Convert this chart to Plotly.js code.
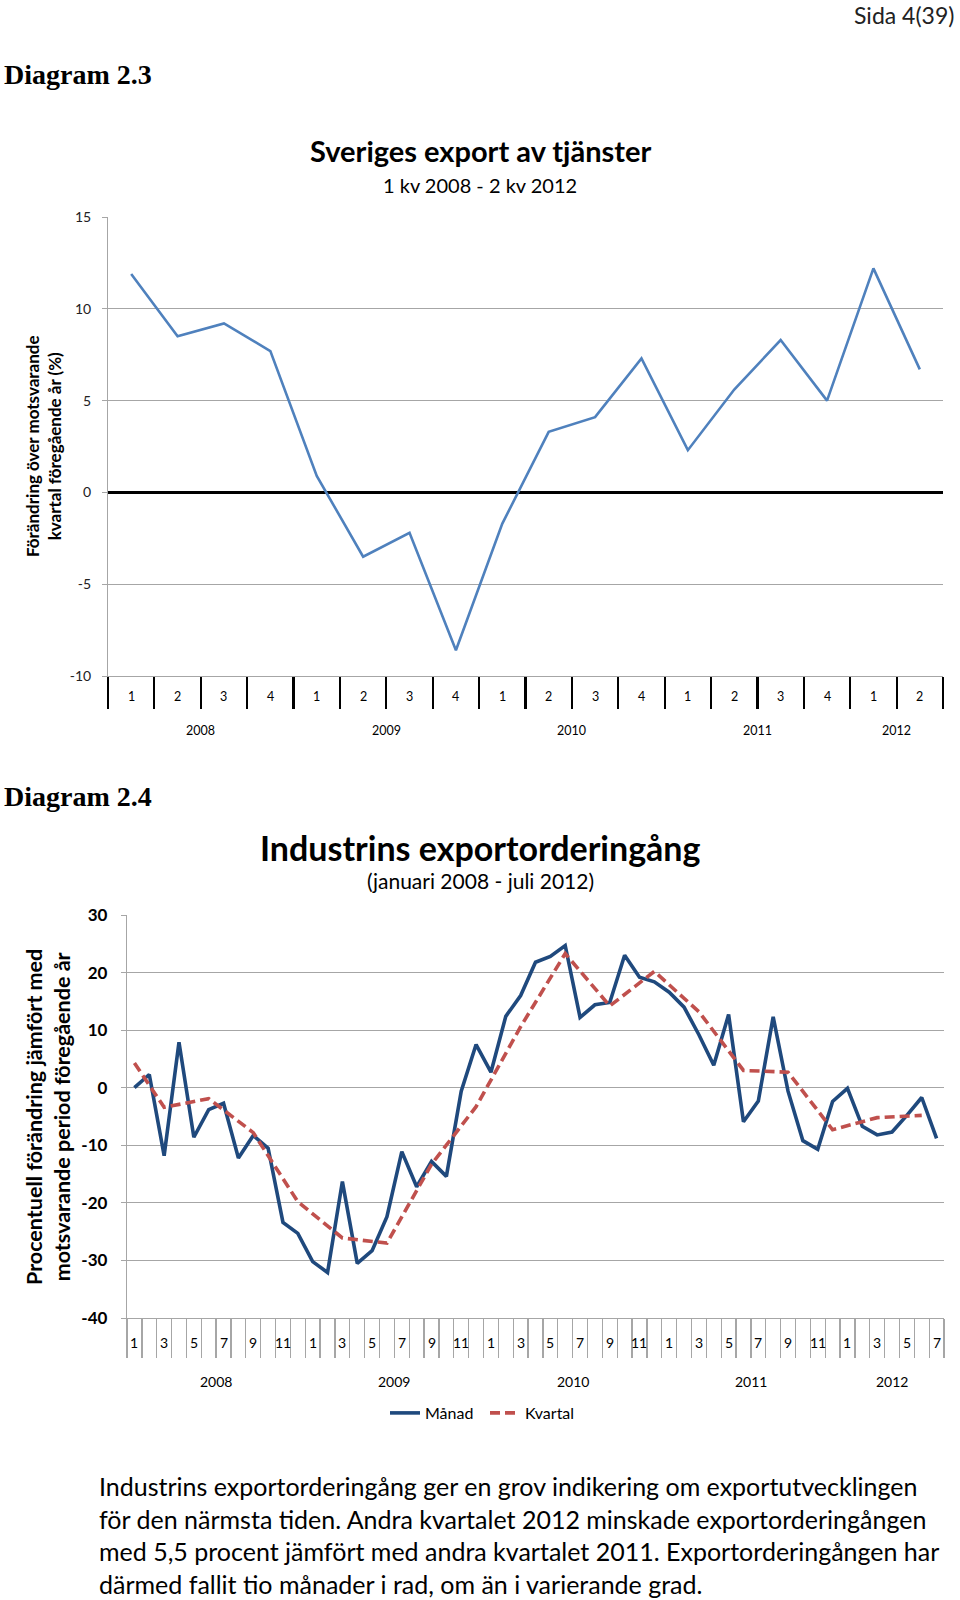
<!DOCTYPE html>
<html><head><meta charset="utf-8">
<script src="https://cdn.plot.ly/plotly-3.0.1.min.js"></script>
<style>html,body{margin:0;padding:0;background:#fff}#chart{width:960px;height:1600px}</style>
</head><body><div id="chart"></div>
<script>
// ---------- Diagram 2.3 : Sveriges export av tjänster ----------
const kvYears = ['2008', '2009', '2010', '2011', '2012'];
const kvPerYear = [4, 4, 4, 4, 2];
const kvLabels = ['1', '2', '3', '4'];
const exportTjanster = [11.9, 8.5, 9.2, 7.7, 0.9, -3.5, -2.2, -8.6, -1.7, 3.3, 4.1, 7.3, 2.3, 5.6, 8.3, 5.0, 12.2, 6.7];
const yTicksA = [-10, -5, 0, 5, 10, 15];

// ---------- Diagram 2.4 : Industrins exportorderingång ----------
const manYears = ['2008', '2009', '2010', '2011', '2012'];
const manPerYear = [12, 12, 12, 12, 7];
const manLabels = ['1', '', '3', '', '5', '', '7', '', '9', '', '11', ''];
const manad = [
  0.0, 2.3, -11.8, 7.9, -8.6, -3.8, -2.7, -12.2, -8.3, -10.5, -23.4, -25.3,
  -30.2, -32.1, -16.3, -30.5, -28.3, -22.4, -11.1, -17.2, -12.8, -15.4, -0.6, 7.5,
  2.7, 12.4, 16.0, 21.8, 22.8, 24.7, 12.2, 14.4, 14.8, 23.0, 19.2, 18.4,
  16.6, 14.0, 9.2, 3.9, 12.7, -5.9, -2.3, 12.3, -0.6, -9.2, -10.7, -2.4,
  -0.1, -6.7, -8.2, -7.7, -4.8, -1.7, -8.8];
const kvartal = [
  4.3, null, -3.4, null, null, -1.9, null, null, -7.8, null, null, -19.8,
  null, null, -26.1, null, null, -27.0, null, null, -13.3, null, null, -3.3,
  null, null, 10.6, null, null, 23.3, null, null, 14.2, null, null, 20.2,
  null, null, 13.2, null, null, 3.0, null, null, 2.7, null, null, -7.3,
  null, null, -5.2, null, null, -4.8, null];
const yTicksB = [-40, -30, -20, -10, 0, 10, 20, 30];

const paragraph = [
  'Industrins exportorderingång ger en grov indikering om exportutvecklingen',
  'för den närmsta tiden. Andra kvartalet 2012 minskade exportorderingången',
  'med 5,5 procent jämfört med andra kvartalet 2011. Exportorderingången har',
  'därmed fallit tio månader i rad, om än i varierande grad.'];

// ---------- helpers ----------
const W = 960, H = 1600;
const PX = p => p / W, PY = p => 1 - p / H;
const FONT = 'Lato, "Open Sans", sans-serif';
const SERIF = '"Liberation Serif", "DejaVu Serif", serif';

function buildCats(years, perYear, labels) {
  const keys = [], lab = [];
  years.forEach((y, yi) => {
    for (let j = 0; j < perYear[yi]; j++) {
      keys.push(y + '-' + (j + 1));
      lab.push(labels[j]);
    }
  });
  const bounds = keys.map((k, i) => i - 0.5).concat([keys.length - 0.5]);
  const yearBounds = [-0.5];
  const yearMid = [];
  let c = 0;
  perYear.forEach(n => { yearMid.push(c + (n - 1) / 2); c += n; yearBounds.push(c - 0.5); });
  return {keys, lab, bounds, yearBounds, yearMid};
}
const A = buildCats(kvYears, kvPerYear, kvLabels);
const B = buildCats(manYears, manPerYear, manLabels);

// ---------- layout geometry ----------
const domXA = [PX(108), PX(943)], domYA = [PY(676), PY(217)], rangeYA = [-10, 15];
const domXB = [PX(127), PX(944)], domYB = [PY(1318), PY(915)], rangeYB = [-40, 30];
const zeroPos = (d, r) => d[0] + (0 - r[0]) / (r[1] - r[0]) * (d[1] - d[0]);
const rngA = [-0.5, A.keys.length - 0.5], rngB = [-0.5, B.keys.length - 0.5];

function tickAxis(over, anchor, vals, len, color, width, rng, pos) {
  const ax = {overlaying: over, range: rng, type: 'linear', tickmode: 'array', tickvals: vals,
    ticks: 'outside', ticklen: len, tickwidth: width, tickcolor: color, showticklabels: false,
    showgrid: false, zeroline: false, showline: false, fixedrange: true};
  if (pos === undefined) ax.anchor = anchor; else { ax.anchor = 'free'; ax.position = pos; }
  return ax;
}

const traces = [
  {x: A.keys, y: exportTjanster, type: 'scatter', mode: 'lines', xaxis: 'x', yaxis: 'y',
   line: {color: '#4F81BD', width: 2.6}, showlegend: false, hoverinfo: 'skip'},
  {x: B.keys, y: manad, type: 'scatter', mode: 'lines', xaxis: 'x2', yaxis: 'y2', name: 'Månad',
   legend: 'legend', line: {color: '#1F497D', width: 3.6}, hoverinfo: 'skip'},
  {x: B.keys, y: kvartal, type: 'scatter', mode: 'lines', xaxis: 'x2', yaxis: 'y2', name: 'Kvartal',
   legend: 'legend2', connectgaps: true, line: {color: '#C0504D', width: 3.6, dash: '10px,5px'}, hoverinfo: 'skip'}
];

const ann = [];
function text(t, x, y, size, opts) {
  ann.push(Object.assign({text: t, x: PX(x), y: PY(y), xref: 'paper', yref: 'paper', showarrow: false,
    xanchor: 'center', yanchor: 'middle', font: {family: FONT, size: size, color: '#000'}}, opts || {}));
}
text('Sida 4(39)', 956, 15, 23, {xanchor: 'right', font: {family: FONT, size: 23, color: '#222'}});
text('<b>Diagram 2.3</b>', 2, 74, 28, {xanchor: 'left', font: {family: SERIF, size: 28, color: '#000'}});
text('<b>Sveriges export av tjänster</b>', 480, 151, 29);
text('1 kv 2008 - 2 kv 2012', 480, 185, 20);
text('<b>Förändring över motsvarande<br>kvartal föregående år (%)</b>', 43, 446, 17, {textangle: -90});
text('<b>Diagram 2.4</b>', 2, 797, 28, {xanchor: 'left', font: {family: SERIF, size: 28, color: '#000'}});
text('<b>Industrins exportorderingång</b>', 480, 847, 34);
text('(januari 2008 - juli 2012)', 480, 880, 21);
text('<b>Procentuell förändring jämfört med<br>motsvarande period föregående år</b>', 48, 1117, 21.5, {textangle: -90});
paragraph.forEach((t, i) => text(t, 97, 1486 + i * 32.7, 25, {xanchor: 'left'}));

// category labels (on the linear overlay axes)
function catLabel(t, x, xref, y, size) {
  ann.push({text: t, x: x, xref: xref, y: PY(y), yref: 'paper', showarrow: false,
    xanchor: 'center', yanchor: 'middle', font: {family: FONT, size: size, color: '#000'}});
}
A.lab.forEach((t, i) => catLabel(t, i, 'x4', 697, 12.5));
A.yearMid.forEach((m, i) => catLabel(kvYears[i], m, 'x4', 730, 12.5));
B.lab.forEach((t, i) => { if (t) catLabel(t, i, 'x7', 1342, 14); });
B.yearMid.forEach((m, i) => catLabel(manYears[i], m, 'x7', 1381, 14));

const legendBase = {orientation: 'h', y: PY(1413), xanchor: 'left', yanchor: 'middle',
  font: {family: FONT, size: 16, color: '#000'}, bgcolor: 'rgba(0,0,0,0)', itemwidth: 30};

const layout = {
  width: W, height: H, margin: {l: 0, r: 0, t: 0, b: 0}, paper_bgcolor: '#fff', plot_bgcolor: '#fff',
  font: {family: FONT, color: '#000'}, hovermode: false,
  xaxis: {domain: domXA, anchor: 'y', type: 'category', range: rngA, showticklabels: false, ticks: '',
    showgrid: false, zeroline: false, showline: true, linecolor: '#A6A6A6', linewidth: 1, fixedrange: true},
  yaxis: {domain: domYA, anchor: 'x', range: rangeYA, tickmode: 'array', tickvals: yTicksA, ticktext: yTicksA.map(String),
    showgrid: true, gridcolor: '#A6A6A6', gridwidth: 1,
    zeroline: true, zerolinecolor: '#000', zerolinewidth: 2.2, showline: true, linecolor: '#A6A6A6', linewidth: 1,
    ticks: 'outside', ticklen: 5, tickcolor: '#A6A6A6', ticklabelstandoff: 8,
    tickfont: {family: FONT, size: 14, color: '#222'}, fixedrange: true},
  xaxis3: tickAxis('x', 'y', A.bounds, 4, '#000', 2, rngA, zeroPos(domYA, rangeYA)),
  xaxis4: tickAxis('x', 'y', A.bounds, 32, '#000', 2.2, rngA),
  xaxis5: tickAxis('x', 'y', A.yearBounds, 64, '#000', 2.2, rngA),

  xaxis2: {domain: domXB, anchor: 'y2', type: 'category', range: rngB, showticklabels: false, ticks: '',
    showgrid: false, zeroline: false, showline: true, linecolor: '#A6A6A6', linewidth: 1.2, fixedrange: true},
  yaxis2: {domain: domYB, anchor: 'x2', range: rangeYB, tickmode: 'array', tickvals: yTicksB, ticktext: yTicksB.map(String),
    showgrid: true, gridcolor: '#A6A6A6', gridwidth: 1.2,
    zeroline: true, zerolinecolor: '#A6A6A6', zerolinewidth: 1.5, showline: true, linecolor: '#A6A6A6', linewidth: 1.2,
    ticks: 'outside', ticklen: 5, tickcolor: '#A6A6A6', ticklabelstandoff: 10,
    tickfont: {family: FONT, size: 17, color: '#000', weight: 'bold'}, fixedrange: true},
  xaxis6: tickAxis('x2', 'y2', B.bounds, 4, '#A6A6A6', 1.3, rngB, zeroPos(domYB, rangeYB)),
  xaxis7: tickAxis('x2', 'y2', B.bounds, 39, '#A6A6A6', 1.3, rngB),
  xaxis8: tickAxis('x2', 'y2', B.yearBounds, 75, '#A6A6A6', 1.3, rngB),

  legend: Object.assign({x: PX(385)}, legendBase),
  legend2: Object.assign({x: PX(485)}, legendBase),
  annotations: ann
};

Plotly.newPlot('chart', traces, layout, {staticPlot: true, displayModeBar: false});
</script></body></html>
